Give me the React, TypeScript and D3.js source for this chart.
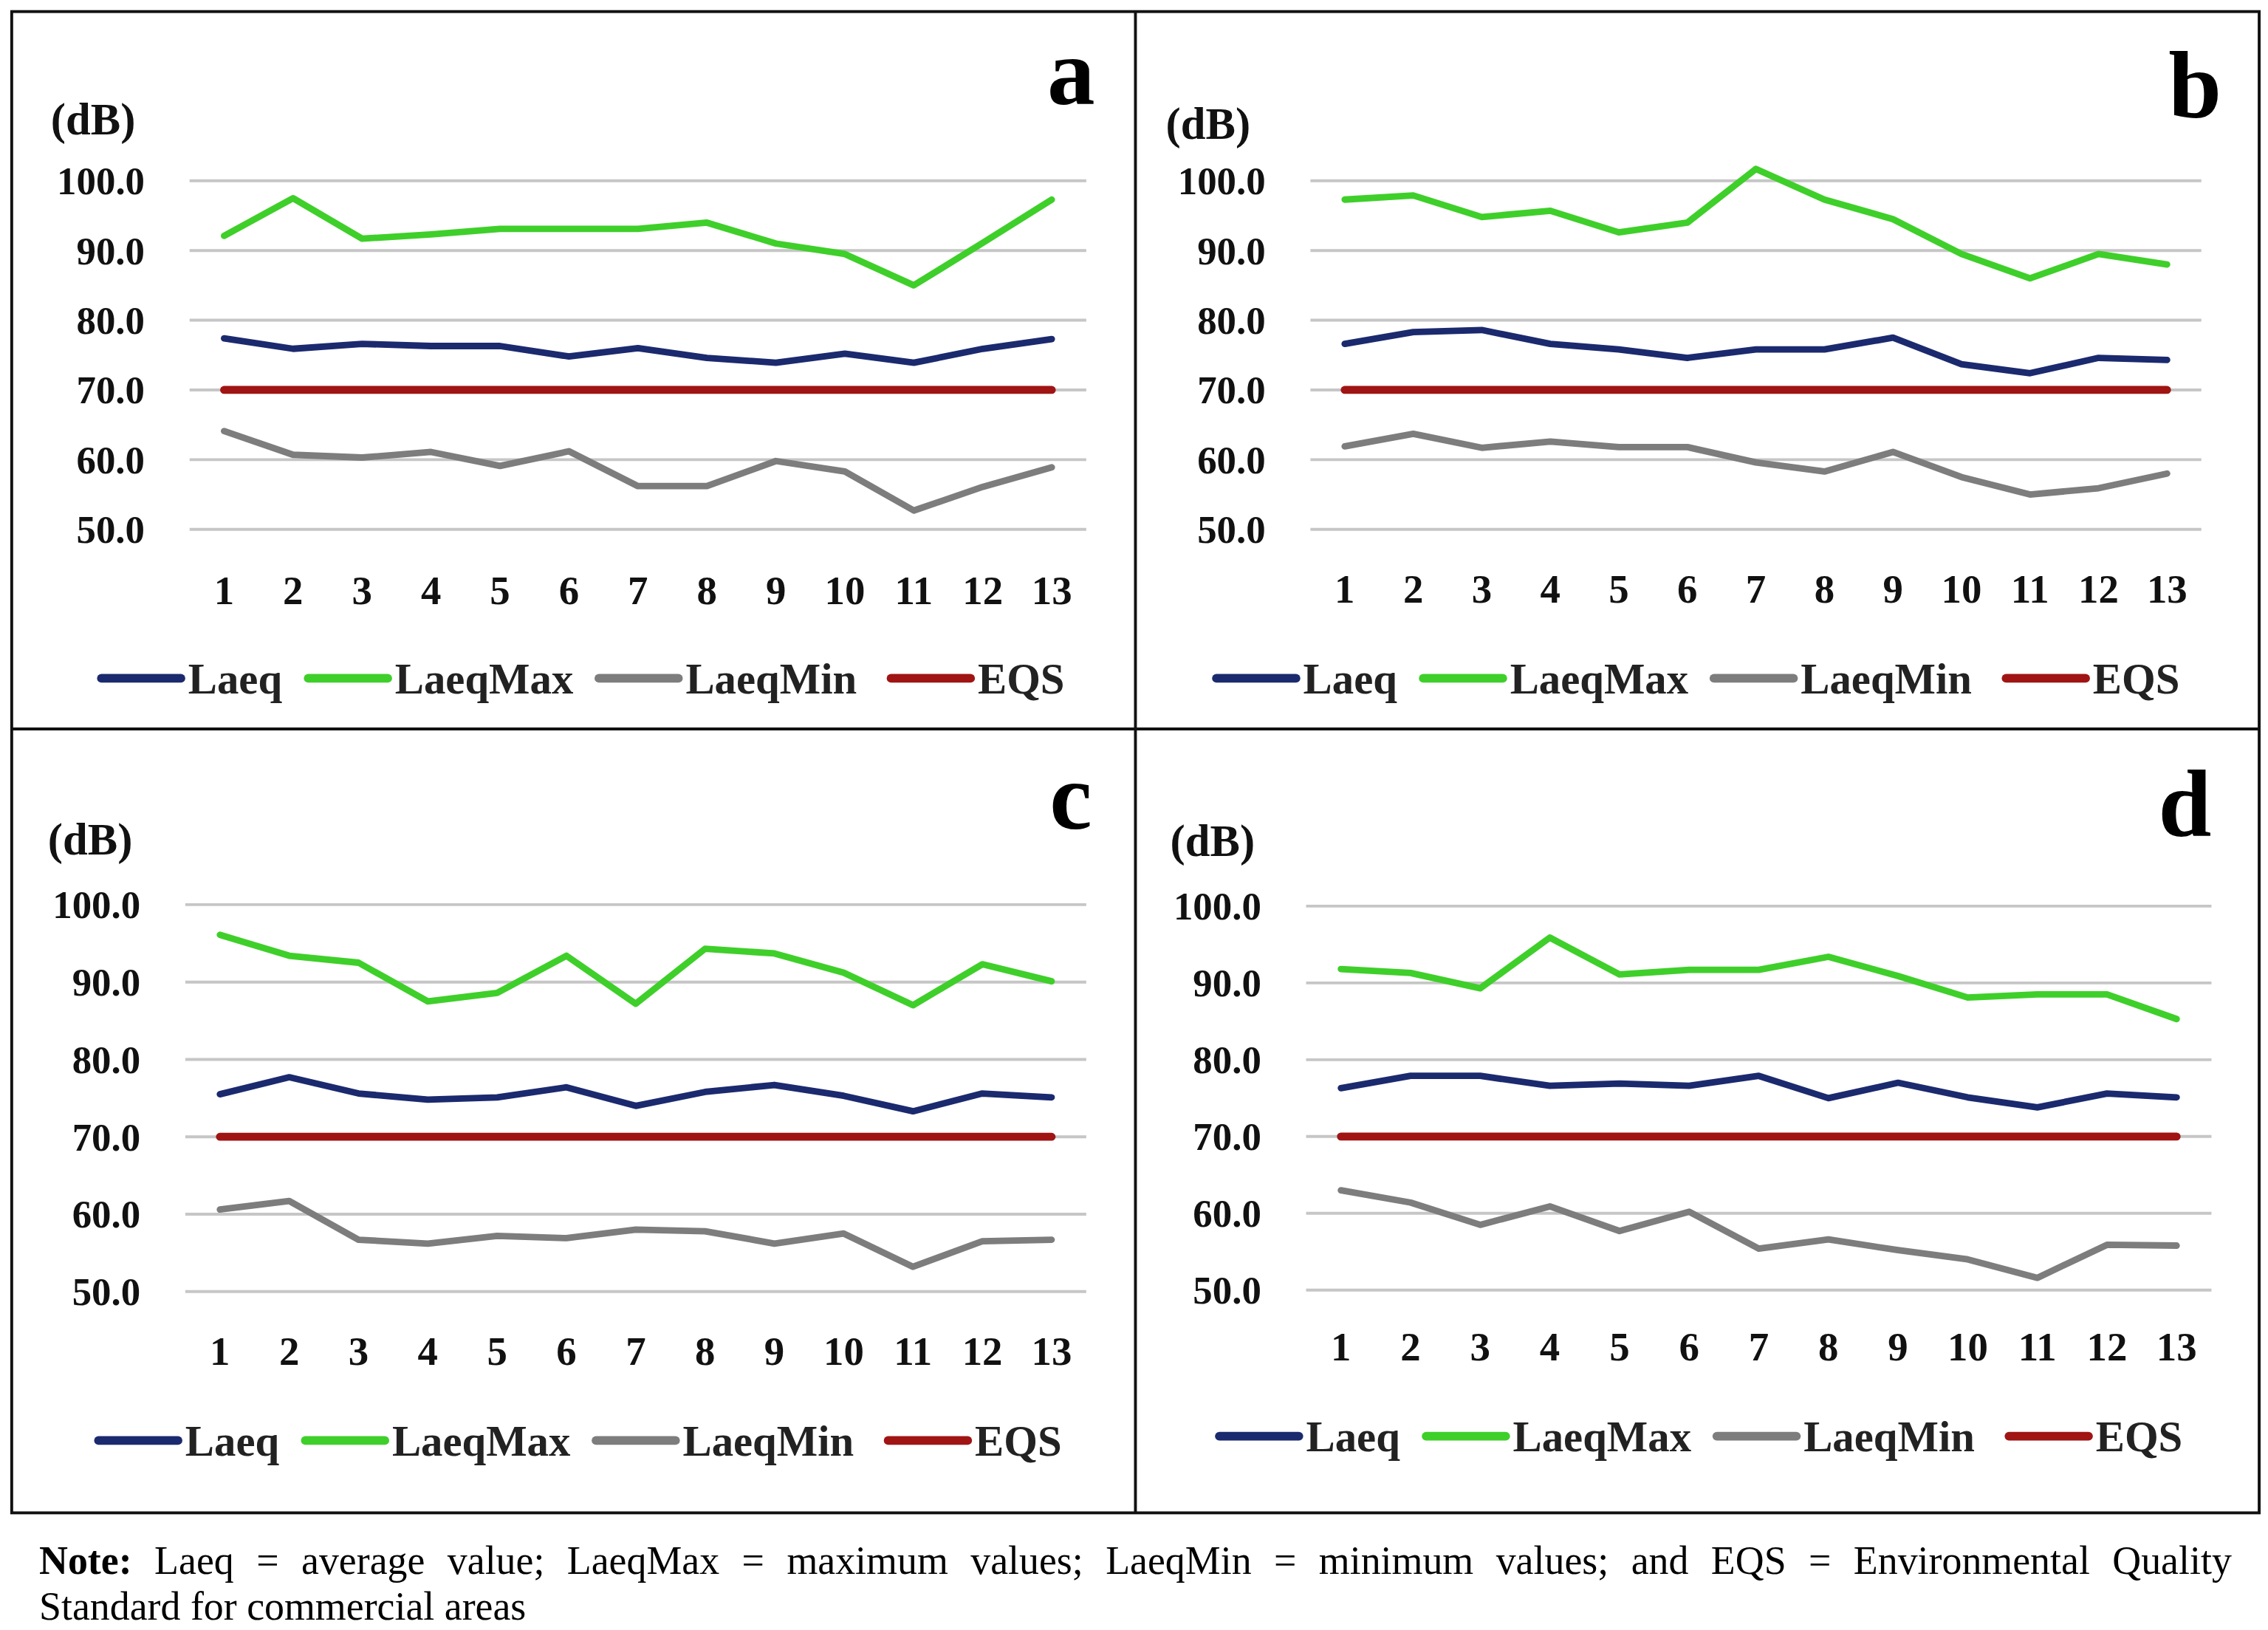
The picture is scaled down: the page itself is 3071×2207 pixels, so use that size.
import * as d3 from "d3";
import { useEffect, useRef } from "react";

// sampling points along the x axis
const sites = ["1", "2", "3", "4", "5", "6", "7", "8", "9", "10", "11", "12", "13"];
const yTicks = [50, 60, 70, 80, 90, 100];
const seriesNames = ["Laeq", "LaeqMax", "LaeqMin", "EQS"];
const seriesColors = ["#1b2a6e", "#3fcf2a", "#7d7d7d", "#a01414"];

// panel a
const laeqA = [77.4, 75.9, 76.6, 76.3, 76.3, 74.8, 76.0, 74.6, 73.9, 75.2, 73.9, 75.9, 77.3];
const laeqMaxA = [92.1, 97.5, 91.7, 92.3, 93.1, 93.1, 93.1, 94.0, 91.0, 89.5, 85.0, 91.1, 97.3];
const laeqMinA = [64.1, 60.7, 60.3, 61.1, 59.1, 61.2, 56.2, 56.2, 59.8, 58.3, 52.7, 56.1, 58.9];

// panel b
const laeqB = [76.6, 78.3, 78.6, 76.6, 75.8, 74.6, 75.8, 75.8, 77.5, 73.7, 72.4, 74.6, 74.3];
const laeqMaxB = [97.3, 97.9, 94.8, 95.7, 92.6, 94.0, 101.7, 97.3, 94.5, 89.5, 86.0, 89.5, 88.0];
const laeqMinB = [61.9, 63.7, 61.7, 62.6, 61.8, 61.8, 59.6, 58.3, 61.1, 57.5, 55.0, 55.9, 58.0];

// panel c
const laeqC = [75.5, 77.7, 75.6, 74.8, 75.1, 76.4, 74.0, 75.8, 76.7, 75.3, 73.3, 75.6, 75.1];
const laeqMaxC = [96.1, 93.4, 92.5, 87.5, 88.6, 93.4, 87.2, 94.3, 93.7, 91.2, 87.0, 92.3, 90.1];
const laeqMinC = [60.6, 61.7, 56.7, 56.2, 57.2, 56.9, 58.0, 57.8, 56.2, 57.5, 53.2, 56.5, 56.7];

// panel d
const laeqD = [76.3, 77.9, 77.9, 76.6, 76.9, 76.6, 77.9, 75.0, 77.0, 75.1, 73.8, 75.6, 75.1];
const laeqMaxD = [91.8, 91.3, 89.3, 95.9, 91.1, 91.7, 91.7, 93.4, 90.9, 88.1, 88.5, 88.5, 85.3];
const laeqMinD = [63.0, 61.4, 58.5, 60.9, 57.7, 60.2, 55.4, 56.6, 55.2, 54.0, 51.6, 55.9, 55.8];

const eqs = [70, 70, 70, 70, 70, 70, 70, 70, 70, 70, 70, 70, 70];

const noteBold = "Note:";
const noteLine1 =
  " Laeq = average value; LaeqMax = maximum values; LaeqMin = minimum values; and EQS = Environmental Quality";
const noteLine2 = "Standard for commercial areas";

// layout of each panel, in viewBox units (1568 x 1127)
const panels = [
  {
    label: "a",
    series: [laeqA, laeqMaxA, laeqMinA, eqs],
    left: 131, right: 751, yTop: 125, yBottom: 366,
    tickY: 408, legendX: 10, legendY: 469,
    db: [35, 82], letter: [757, 72],
  },
  {
    label: "b",
    series: [laeqB, laeqMaxB, laeqMinB, eqs],
    left: 906, right: 1522, yTop: 125, yBottom: 366,
    tickY: 407, legendX: 781, legendY: 469,
    db: [806, 85], letter: [1536, 81],
  },
  {
    label: "c",
    series: [laeqC, laeqMaxC, laeqMinC, eqs],
    left: 128, right: 751, yTop: 625.5, yBottom: 893,
    tickY: 934, legendX: 8, legendY: 996,
    db: [33, 580], letter: [755, 573],
  },
  {
    label: "d",
    series: [laeqD, laeqMaxD, laeqMinD, eqs],
    left: 903, right: 1529, yTop: 626.5, yBottom: 892,
    tickY: 931, legendX: 783, legendY: 993,
    db: [809, 581], letter: [1529, 578],
  },
];

const legendOffsets = [57, 200, 401, 603];
const FONT = "'Liberation Serif', 'Times New Roman', serif";

export default function App() {
  const ref = useRef<SVGSVGElement>(null);

  useEffect(() => {
    document.body.style.margin = "0";
    const svg = d3.select(ref.current);
    svg.selectAll("*").remove();

    svg.append("rect").attr("width", 1568).attr("height", 1127).attr("fill", "#fff");

    // frame
    const frame = svg.append("g").attr("fill", "none").attr("stroke", "#111").attr("stroke-width", 2);
    frame.append("rect").attr("x", 8).attr("y", 8).attr("width", 1554).attr("height", 1038);
    frame.append("line").attr("x1", 785).attr("x2", 785).attr("y1", 8).attr("y2", 1046);
    frame.append("line").attr("x1", 8).attr("x2", 1562).attr("y1", 504).attr("y2", 504);

    panels.forEach((p) => {
      const g = svg.append("g").attr("font-family", FONT).attr("font-weight", "bold");

      const x = d3.scalePoint<string>().domain(sites).range([p.left, p.right]).padding(0.5);
      const y = d3.scaleLinear().domain([50, 100]).range([p.yBottom, p.yTop]);

      // grid
      g.selectAll(".grid")
        .data(yTicks)
        .enter()
        .append("line")
        .attr("x1", p.left)
        .attr("x2", p.right)
        .attr("y1", (d) => y(d))
        .attr("y2", (d) => y(d))
        .attr("stroke", "#c6c6c6")
        .attr("stroke-width", 2);

      // y labels
      g.selectAll(".ylab")
        .data(yTicks)
        .enter()
        .append("text")
        .attr("x", p.left - 31)
        .attr("y", (d) => y(d))
        .attr("dy", "0.35em")
        .attr("text-anchor", "end")
        .attr("font-size", 27)
        .attr("fill", "#111")
        .text((d) => d3.format(".1f")(d));

      // x labels
      g.selectAll(".xlab")
        .data(sites)
        .enter()
        .append("text")
        .attr("x", (d) => x(d)!)
        .attr("y", p.tickY)
        .attr("dy", "0.35em")
        .attr("text-anchor", "middle")
        .attr("font-size", 28)
        .attr("fill", "#111")
        .text((d) => d);

      const line = d3
        .line<number>()
        .x((_, i) => x(sites[i])!)
        .y((d) => y(d));

      p.series.forEach((vals, si) => {
        g.append("path")
          .datum(vals)
          .attr("d", line)
          .attr("fill", "none")
          .attr("stroke", seriesColors[si])
          .attr("stroke-width", si === 3 ? 5.5 : 4.5)
          .attr("stroke-linejoin", "round")
          .attr("stroke-linecap", "round");
      });

      // legend
      seriesNames.forEach((name, si) => {
        const lx = p.legendX + legendOffsets[si];
        g.append("line")
          .attr("x1", lx + 3)
          .attr("x2", lx + 58)
          .attr("y1", p.legendY)
          .attr("y2", p.legendY)
          .attr("stroke", seriesColors[si])
          .attr("stroke-width", 6)
          .attr("stroke-linecap", "round");
        g.append("text")
          .attr("x", lx + 63)
          .attr("y", p.legendY)
          .attr("dy", "0.35em")
          .attr("font-size", 30)
          .attr("fill", "#222")
          .text(name);
      });

      g.append("text")
        .attr("x", p.db[0])
        .attr("y", p.db[1])
        .attr("dy", "0.35em")
        .attr("font-size", 31)
        .attr("fill", "#111")
        .text("(dB)");

      g.append("text")
        .attr("x", p.letter[0])
        .attr("y", p.letter[1])
        .attr("text-anchor", "end")
        .attr("font-size", 66)
        .attr("fill", "#000")
        .text(p.label);
    });

    // note, first line justified
    const note = svg
      .append("text")
      .attr("x", 27)
      .attr("y", 1088)
      .attr("font-family", FONT)
      .attr("font-size", 27.5)
      .attr("fill", "#000");
    note.append("tspan").attr("font-weight", "bold").text(noteBold);
    note.append("tspan").text(noteLine1);
    const natural = (note.node() as SVGTextElement).getComputedTextLength();
    const spaces = (noteBold + noteLine1).split(" ").length - 1;
    note.attr("word-spacing", Math.max(0, (1543 - 27 - natural) / spaces));

    svg
      .append("text")
      .attr("x", 27)
      .attr("y", 1120)
      .attr("font-family", FONT)
      .attr("font-size", 27.5)
      .attr("fill", "#000")
      .text(noteLine2);
  }, []);

  return (
    <svg
      ref={ref}
      width={3071}
      height={2207}
      viewBox="0 0 1568 1127"
      style={{ position: "absolute", left: 0, top: 0, display: "block" }}
    />
  );
}
